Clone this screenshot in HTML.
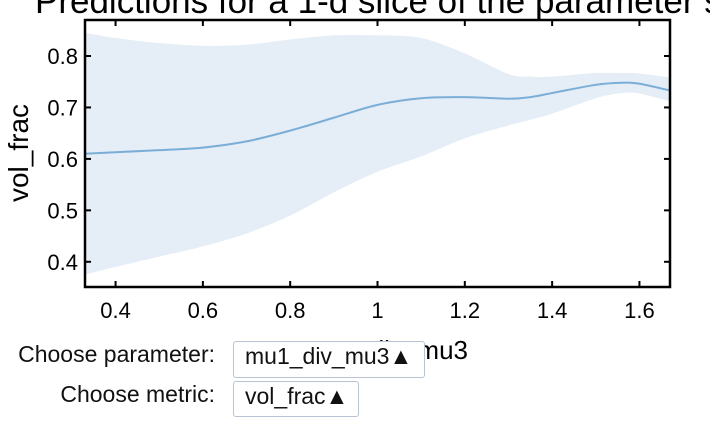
<!DOCTYPE html>
<html><head><meta charset="utf-8"><style>
body{margin:0;width:710px;height:426px;overflow:hidden;background:#fff;font-family:"Liberation Sans",Arial,sans-serif;position:relative}
.lbl{position:absolute;font-size:23px;color:#111;text-align:right;width:215px;left:0;line-height:24px;white-space:nowrap}
.sel{position:absolute;border:1px solid #b8c4d4;border-radius:3px;background:#fff;font-size:23px;color:#111;padding:2px 0 0 11px;box-sizing:border-box;line-height:24px;white-space:nowrap;overflow:hidden}
</style></head><body>
<svg width="710" height="426" style="position:absolute;left:0;top:0">
<text x="35" y="13" font-size="35" font-family="Liberation Sans, sans-serif" fill="#000">Predictions for a 1-d slice of the parameter space</text>
<g id="plot"></g>
<text x="468" y="359" font-size="26" text-anchor="end" font-family="Liberation Sans, sans-serif">mu1_div_mu3</text>
<text transform="translate(28,153) rotate(-90)" font-size="28" text-anchor="middle" font-family="Liberation Sans, sans-serif">vol_frac</text>
</svg>
<div class="lbl" style="top:342px">Choose parameter:</div>
<div class="sel" style="left:233px;top:341px;width:192px;height:37px">mu1_div_mu3▲</div>
<div class="lbl" style="top:382px">Choose metric:</div>
<div class="sel" style="left:233px;top:381px;width:126px;height:36px">vol_frac▲</div>
<script>
const xs=[0.33,0.4,0.5,0.6,0.7,0.8,0.9,1.0,1.1,1.2,1.3,1.35,1.4,1.5,1.56,1.6,1.67];
const meanVals=[0.61,0.613,0.617,0.622,0.634,0.655,0.68,0.705,0.718,0.72,0.717,0.72,0.728,0.744,0.748,0.746,0.733];
const upperVals=[0.845,0.835,0.825,0.82,0.822,0.832,0.84,0.84,0.835,0.805,0.765,0.76,0.76,0.767,0.767,0.766,0.758];
const lowerVals=[0.375,0.39,0.41,0.43,0.455,0.49,0.535,0.575,0.605,0.64,0.665,0.676,0.688,0.718,0.728,0.727,0.712];
const xTicks=[0.4,0.6,0.8,1,1.2,1.4,1.6];
const yTicks=[0.4,0.5,0.6,0.7,0.8];
const L=85,R=670,T=20,B=287,x0=0.33,x1=1.67,y0=0.351,y1=0.87;
const X=v=>L+(v-x0)/(x1-x0)*(R-L);
const Y=v=>B-(v-y0)/(y1-y0)*(B-T);
function smooth(pts,move){let d=move?`M${pts[0][0]},${pts[0][1]}`:`L${pts[0][0]},${pts[0][1]}`;
for(let i=0;i<pts.length-1;i++){const p0=pts[Math.max(i-1,0)],p1=pts[i],p2=pts[i+1],p3=pts[Math.min(i+2,pts.length-1)];
d+=`C${p1[0]+(p2[0]-p0[0])/6},${p1[1]+(p2[1]-p0[1])/6} ${p2[0]-(p3[0]-p1[0])/6},${p2[1]-(p3[1]-p1[1])/6} ${p2[0]},${p2[1]}`;}return d;}
const g=document.getElementById('plot');const NS='http://www.w3.org/2000/svg';
function mk(t,a){const e=document.createElementNS(NS,t);for(const k in a)e.setAttribute(k,a[k]);g.appendChild(e);return e;}
const up=xs.map((x,i)=>[X(x),Y(upperVals[i])]);
const lo=xs.map((x,i)=>[X(x),Y(lowerVals[i])]).reverse();
const band=mk('path',{d:smooth(up,true)+smooth(lo,false)+'Z',fill:'#e5edf6'});


const line=mk('path',{d:smooth(xs.map((x,i)=>[X(x),Y(meanVals[i])]),true),fill:'none',stroke:'#7aaed6','stroke-width':2});


const fr=mk('rect',{x:L,y:T,width:R-L,height:B-T,fill:'none',stroke:'#000','stroke-width':2.5});


xTicks.forEach(v=>{const x=X(v);
mk('line',{x1:x,x2:x,y1:B,y2:B-6,stroke:'#000','stroke-width':2});
mk('line',{x1:x,x2:x,y1:T,y2:T+6,stroke:'#000','stroke-width':2});
const t=mk('text',{x:x,y:318,'font-size':22,'text-anchor':'middle','font-family':'Liberation Sans, sans-serif'});t.textContent=String(v);

});
yTicks.forEach(v=>{const y=Y(v);
mk('line',{x1:L,x2:L+6,y1:y,y2:y,stroke:'#000','stroke-width':2});
mk('line',{x1:R,x2:R-6,y1:y,y2:y,stroke:'#000','stroke-width':2});
const t=mk('text',{x:L-7,y:y+8,'font-size':22,'text-anchor':'end','font-family':'Liberation Sans, sans-serif'});t.textContent=v.toFixed(1);

});
</script>
</body></html>
